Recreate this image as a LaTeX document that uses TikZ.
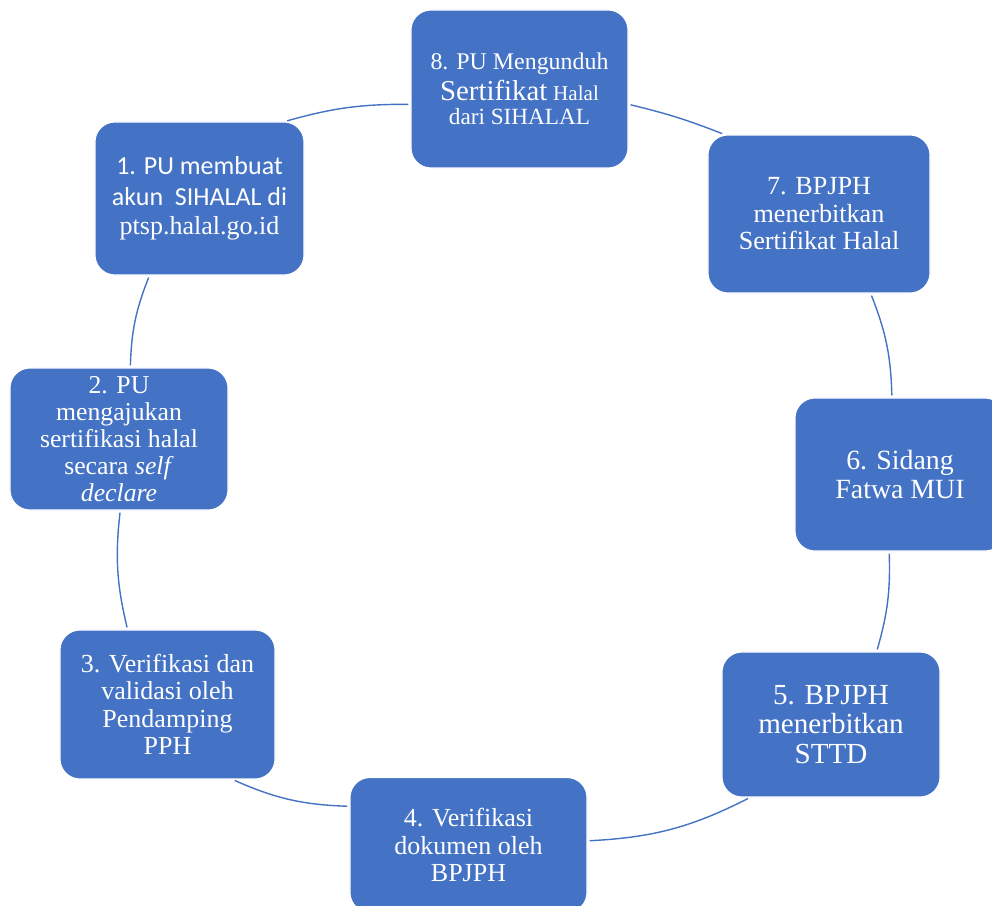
\documentclass[tikz,border=0pt]{standalone}
\usepackage{fontspec}
\setmainfont{Liberation Serif}
\newfontfamily\calibri{Carlito}
\usepackage{xcolor}
\definecolor{CycleBlue}{RGB}{68, 114, 196}
\usepackage{tikz}
\usetikzlibrary{positioning}

\begin{document}
\begin{tikzpicture}[
  x=0.025cm, y=0.025cm,
  stepbox/.style={
    draw=white, fill=CycleBlue,
    line width=0.8pt,
    rounded corners=0.5cm, align=center,
    text=white, inner sep=2pt
  },
  ring/.style={
    draw=CycleBlue, line width=1pt,
    shorten <=1.5pt, shorten >=1.5pt
  }
]

\clip (0,0) rectangle (992,-906);

% the eight steps, clockwise from the top
\node[stepbox, minimum width=5.425cm, minimum height=3.95cm,
  font=\fontsize{16.5}{17.4}\selectfont] (n8) at (519.5,-89)
  {{\fontsize{17}{17.4}\selectfont 8. PU Mengunduh}\\[2.5pt]
   {\fontsize{20.5}{17.4}\selectfont Sertifikat}
   {\fontsize{15}{17.4}\selectfont Halal}\\
   dari SIHALAL};
\node[stepbox, minimum width=5.225cm, minimum height=3.825cm,
  font=\fontsize{18.5}{19.4}\selectfont] (n1) at (199.5,-198.5)
  {{\calibri 1. PU membuat}\\[2.5pt]
   {\calibri akun~ SIHALAL di}\\[1.5pt]
   ptsp.halal.go.id};
\node[stepbox, minimum width=5.55cm, minimum height=3.95cm,
  font=\fontsize{18.6}{19.6}\selectfont] (n7) at (819,-214)
  {7. BPJPH\\menerbitkan\\Sertifikat Halal};
\node[stepbox, minimum width=5.45cm, minimum height=3.55cm,
  font=\fontsize{18.3}{19.2}\selectfont] (n2) at (119,-439)
  {2. PU\\mengajukan\\sertifikasi halal\\
   secara \textit{self}\\\textit{declare}};
\node[stepbox, minimum width=5.25cm, minimum height=3.825cm,
  font=\fontsize{19.8}{20.5}\selectfont] (n6) at (900,-474.5)
  {6. Sidang\\Fatwa MUI};
\node[stepbox, minimum width=5.375cm, minimum height=3.725cm,
  font=\fontsize{18.5}{19.5}\selectfont] (n3) at (167.5,-704.5)
  {3. Verifikasi dan\\validasi oleh\\Pendamping\\PPH};
\node[stepbox, minimum width=5.45cm, minimum height=3.625cm,
  font=\fontsize{20.7}{21}\selectfont] (n5) at (831,-724.5)
  {5. BPJPH\\menerbitkan\\STTD};
\node[stepbox, minimum width=5.925cm, minimum height=3.375cm,
  font=\fontsize{18.5}{19.5}\selectfont] (n4) at (468.5,-845)
  {4. Verifikasi\\dokumen oleh\\BPJPH};

% arcs of the cycle
\draw[ring] (n1.42)  to[bend left=8]  (n8.188);
\draw[ring] (n8.-8)  to[bend left=4]  (n7.140);
\draw[ring] (n7.-57) to[bend left=10] (n6.96);
\draw[ring] (n6.262) to[bend left=9]  (n5.58);
\draw[ring] (n5.222) to[bend left=12] (n4.2);
\draw[ring] (n4.162) to[bend left=11] (n3.-49);
\draw[ring] (n3.118) to[bend left=10] (n2.-89);
\draw[ring] (n2.81)  to[bend left=10] (n1.237);

\end{tikzpicture}
\end{document}
